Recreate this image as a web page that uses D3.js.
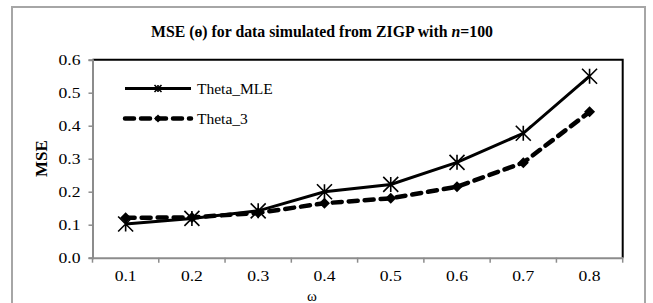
<!DOCTYPE html>
<html>
<head>
<meta charset="utf-8">
<script src="https://cdn.jsdelivr.net/npm/d3@7"></script>
<style>
	html, body { margin: 0; padding: 0; background: #fff; }
	svg { display: block; }
</style>
</head>
<body>
<div id="chart"></div>
<script>
// omega values on the x axis
var categories = ['0.1', '0.2', '0.3', '0.4', '0.5', '0.6', '0.7', '0.8'];
var thetaMLE = [0.102, 0.119, 0.142, 0.200, 0.222, 0.289, 0.377, 0.550];
var theta3 = [0.121, 0.122, 0.136, 0.165, 0.180, 0.215, 0.288, 0.442];
var yTicks = [0, 0.1, 0.2, 0.3, 0.4, 0.5, 0.6];
var seriesNames = ['Theta_MLE', 'Theta_3'];

var W = 653, H = 303;
var plot = {left: 92.5, right: 622.7, top: 59.7, bottom: 257.7};
var serif = '"Liberation Serif", "Times New Roman", serif';

var svg = d3.select('#chart').append('svg')
	.attr('width', W).attr('height', H);

// outer chart frame
svg.append('rect')
	.attr('x', 12).attr('y', 7)
	.attr('width', 633).attr('height', 310)
	.style('fill', '#fff')
	.style('stroke', '#a6a6a6')
	.style('stroke-width', 2);

var x = d3.scaleBand().domain(categories).range([plot.left, plot.right]);
var y = d3.scaleLinear().domain([0, 0.6]).range([plot.bottom, plot.top]);

// plot area border (top + right black)
svg.append('path')
	.attr('d', 'M' + plot.left + ',' + plot.top + 'H' + plot.right + 'V' + plot.bottom)
	.style('fill', 'none')
	.style('stroke', '#000')
	.style('stroke-width', 2);

// y axis
var yAxis = svg.append('g')
	.attr('transform', 'translate(' + plot.left + ',0)')
	.call(d3.axisLeft(y).tickValues(yTicks).tickFormat(d3.format('.1f')).tickSize(4).tickPadding(8));
yAxis.select('.domain').style('stroke', '#8c8c8c').style('stroke-width', 2);
yAxis.selectAll('.tick line').style('stroke', '#8c8c8c').style('stroke-width', 1.5);
yAxis.selectAll('.tick text')
	.style('font-family', serif)
	.style('font-size', '14px')
	.style('fill', '#000')
	.attr('textLength', 22)
	.attr('lengthAdjust', 'spacingAndGlyphs');

// x axis: labels at band centres, ticks at band edges
var xAxis = svg.append('g')
	.attr('transform', 'translate(0,' + plot.bottom + ')')
	.call(d3.axisBottom(x).tickSize(0).tickPadding(13));
xAxis.select('.domain').style('stroke', '#8c8c8c').style('stroke-width', 2);
xAxis.selectAll('.tick text')
	.style('font-family', serif)
	.style('font-size', '15px')
	.style('fill', '#000')
	.attr('textLength', 22)
	.attr('lengthAdjust', 'spacingAndGlyphs');

var edges = categories.map(function(c) { return x(c); }).concat([plot.right]);
xAxis.selectAll('line.edge')
	.data(edges)
	.enter().append('line')
	.attr('class', 'edge')
	.attr('x1', function(d) { return d; }).attr('x2', function(d) { return d; })
	.attr('y1', 0).attr('y2', 5)
	.style('stroke', '#8c8c8c')
	.style('stroke-width', 1.5);

// axis titles
svg.append('text')
	.attr('transform', 'translate(47,' + y(0.3) + ') rotate(-90)')
	.attr('text-anchor', 'middle')
	.style('font-family', serif)
	.style('font-weight', 'bold')
	.style('font-size', '17px')
	.text('MSE');

svg.append('text')
	.attr('x', 312).attr('y', 301)
	.attr('text-anchor', 'middle')
	.style('font-family', serif)
	.style('font-size', '15px')
	.text('ω');

// chart title
var title = svg.append('text')
	.attr('x', 322).attr('y', 37)
	.attr('text-anchor', 'middle')
	.style('font-family', '"Liberation Serif", "DejaVu Serif", serif')
	.style('font-weight', 'bold')
	.style('font-size', '15.8px');
title.append('tspan').text('MSE (ɵ) for data simulated from ZIGP with ');
title.append('tspan').style('font-style', 'italic').text('n');
title.append('tspan').text('=100');

function asterisk(sel, r) {
	sel.append('path')
		.attr('d', 'M' + (-r) + ',' + (-r) + 'L' + r + ',' + r +
			'M' + (-r) + ',' + r + 'L' + r + ',' + (-r) +
			'M0,' + (-r) + 'V' + r)
		.style('fill', 'none')
		.style('stroke', '#000')
		.style('stroke-width', 1.6);
}

function diamond(sel, r) {
	sel.append('path')
		.attr('d', 'M0,' + (-r) + 'L' + r + ',0L0,' + r + 'L' + (-r) + ',0Z')
		.style('fill', '#000');
}

var line = d3.line()
	.x(function(d, i) { return x(categories[i]) + x.bandwidth() / 2; })
	.y(function(d) { return y(d); });

// Theta_3 dashed
svg.append('path')
	.datum(theta3)
	.attr('d', line)
	.style('fill', 'none')
	.style('stroke', '#000')
	.style('stroke-width', 4.5)
	.style('stroke-dasharray', '9,7')
	.style('stroke-linecap', 'round');

svg.selectAll('g.m3')
	.data(theta3)
	.enter().append('g')
	.attr('class', 'm3')
	.attr('transform', function(d, i) {
		return 'translate(' + (x(categories[i]) + x.bandwidth() / 2) + ',' + y(d) + ')';
	})
	.call(diamond, 5.5);

// Theta_MLE solid
svg.append('path')
	.datum(thetaMLE)
	.attr('d', line)
	.style('fill', 'none')
	.style('stroke', '#000')
	.style('stroke-width', 3);

svg.selectAll('g.m1')
	.data(thetaMLE)
	.enter().append('g')
	.attr('class', 'm1')
	.attr('transform', function(d, i) {
		return 'translate(' + (x(categories[i]) + x.bandwidth() / 2) + ',' + y(d) + ')';
	})
	.call(asterisk, 7.5);

// legend
var legend = svg.append('g');
var rows = [
	{name: seriesNames[0], y: 88.5, dash: null, width: 3, marker: asterisk, r: 3.5},
	{name: seriesNames[1], y: 118.5, dash: '9,7', width: 4.5, marker: diamond, r: 4}
];
rows.forEach(function(row) {
	legend.append('line')
		.attr('x1', 125).attr('x2', 191)
		.attr('y1', row.y).attr('y2', row.y)
		.style('stroke', '#000')
		.style('stroke-width', row.width)
		.style('stroke-dasharray', row.dash)
		.style('stroke-linecap', row.dash ? 'round' : 'butt');
	legend.append('g')
		.attr('transform', 'translate(158,' + row.y + ')')
		.call(row.marker, row.r);
	legend.append('text')
		.attr('x', 197).attr('y', row.y + 5.5)
		.style('font-family', serif)
		.style('font-size', '15.5px')
		.text(row.name);
});
</script>
</body>
</html>
